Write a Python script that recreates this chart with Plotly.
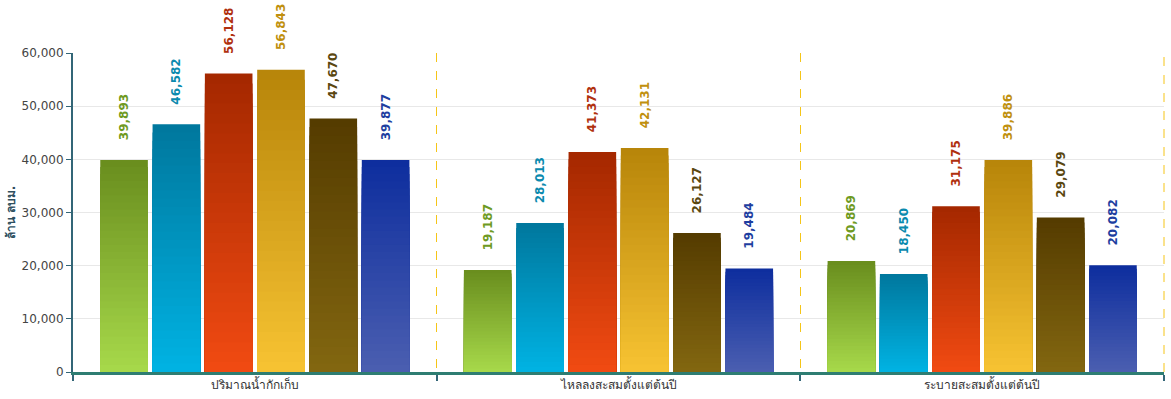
import plotly.graph_objects as go

categories = ["ปริมาณน้ำกักเก็บ", "ไหลลงสะสมตั้งแต่ต้นปี", "ระบายสะสมตั้งแต่ต้นปี"]
series_names = ["ชุด 1", "ชุด 2", "ชุด 3", "ชุด 4", "ชุด 5", "ชุด 6"]
s1 = [39893, 19187, 20869]
s2 = [46582, 28013, 18450]
s3 = [56128, 41373, 31175]
s4 = [56843, 42131, 39886]
s5 = [47670, 26127, 29079]
s6 = [39877, 19484, 20082]
series_values = [s1, s2, s3, s4, s5, s6]

top_colors = ["#6A8E1E", "#00789E", "#A52800", "#B8860A", "#553C00", "#0E2E9E"]
bottom_colors = ["#A6D84A", "#00B2E2", "#F04A12", "#F6C232", "#826610", "#4A5EB0"]
label_colors = ["#6E9A22", "#0A8AAE", "#B0300E", "#C0900E", "#5A4710", "#1E3EA0"]

N = 30


def hex2rgb(h):
    h = h.lstrip("#")
    return tuple(int(h[i:i + 2], 16) for i in (0, 2, 4))


def mix(a, b, t):
    ra, rb = hex2rgb(a), hex2rgb(b)
    return "rgb(%d,%d,%d)" % tuple(round(ra[i] + (rb[i] - ra[i]) * t) for i in range(3))


fig = go.Figure()
for si, vals in enumerate(series_values):
    for k in range(N):
        frac = (N - k) / N
        ys = [v * frac for v in vals]
        is_top = k == 0
        fig.add_trace(go.Bar(
            x=categories,
            y=ys,
            offsetgroup=str(si),
            name=series_names[si],
            showlegend=False,
            marker=dict(color=mix(top_colors[si], bottom_colors[si], k / (N - 1)), line=dict(width=0)),
            text=["\u00a0\u00a0\u00a0\u00a0" + f"{v:,}" for v in vals] if is_top else None,
            textposition="outside" if is_top else "none",
            textangle=-90,
            constraintext="none",
            textfont=dict(color=label_colors[si], size=12, family="DejaVu Sans", weight="bold"),
            cliponaxis=False,
            hoverinfo="skip" if not is_top else None,
        ))

fig.add_shape(type="line", xref="paper", yref="paper", x0=1, x1=1, y0=0, y1=1,
              line=dict(color="#F5C518", width=1, dash="dash"), layer="below")

fig.update_layout(
    width=1171, height=399,
    margin=dict(l=73, r=7, t=53, b=27),
    barmode="group",
    bargap=0.137,
    bargroupgap=0.09,
    plot_bgcolor="white",
    paper_bgcolor="white",
    font=dict(family="DejaVu Sans", size=12, color="#333333"),
)
fig.update_xaxes(
    type="category",
    tickson="boundaries",
    ticks="outside", ticklen=6, tickwidth=2, tickcolor="#336677",
    showline=True, linecolor="#2E7D72", linewidth=3,
    showgrid=True, gridcolor="#F5C518", griddash="dash", gridwidth=1,
    tickfont=dict(size=12, color="#333333"),
)
fig.update_yaxes(
    range=[0, 60000],
    dtick=10000,
    tickformat=",",
    ticks="outside", ticklen=5, tickwidth=1, tickcolor="#336677",
    showline=True, linecolor="#336677", linewidth=2,
    showgrid=True, gridcolor="#E8E8E8", gridwidth=1,
    zeroline=False,
    tickfont=dict(size=12, color="#444444"),
    title=dict(text="<b>ล้าน ลบม.</b>", font=dict(size=12, color="#2F4F5F"), standoff=3),
)

fig.write_html("out.html")
